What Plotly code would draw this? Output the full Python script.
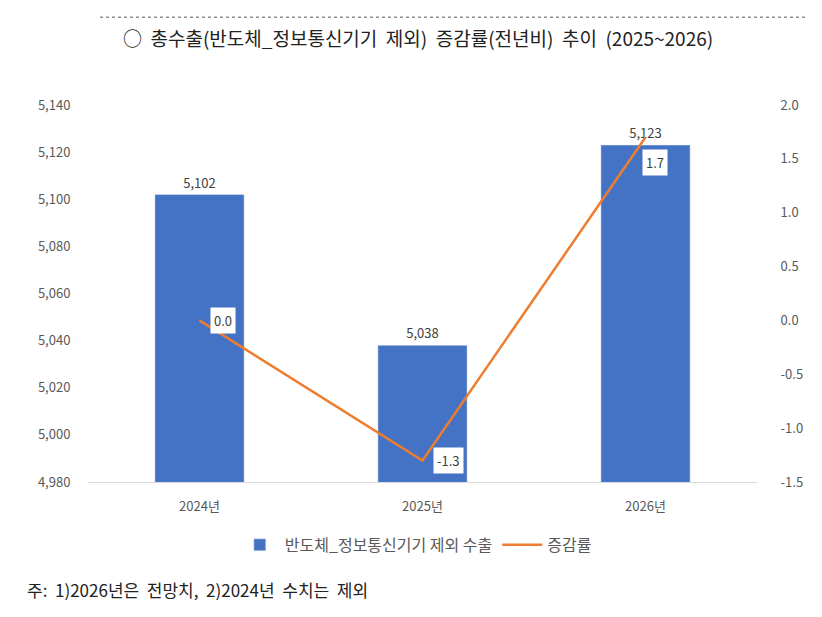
import plotly.graph_objects as go

years = ["2024년", "2025년", "2026년"]
exports = [5102, 5038, 5123]
growth = [0.0, -1.3, 1.7]
growth_labels = ["0.0", "-1.3", "1.7"]

right_ticks = [-1.5, -1.0, -0.5, 0.0, 0.5, 1.0, 1.5, 2.0]
right_tick_text = ["-1.5", "-1.0", "-0.5", "0.0", "0.5", "1.0", "1.5", "2.0"]

title_text = "○  총수출(반도체_정보통신기기  제외)  증감률(전년비)  추이  (2025~2026)"
note_text = "주:  1)2026년은  전망치,  2)2024년  수치는  제외"

FONT = "Noto Sans CJK KR"
GREY = "#595959"

fig = go.Figure()

fig.add_trace(go.Bar(
    x=years, y=exports,
    name="반도체_정보통신기기 제외 수출",
    marker=dict(color="#4472C4"),
    width=0.4,
    text=["{:,}".format(v) for v in exports],
    textposition="outside",
    textfont=dict(size=13, color="#404040", family=FONT),
    cliponaxis=False,
))

fig.add_trace(go.Scatter(
    x=years, y=growth,
    name="증감률",
    mode="lines",
    line=dict(color="#ED7D31", width=2.5),
    yaxis="y2",
))

# label boxes for the growth line
shifts = [(23, 0), (26, 0), (9, -25)]
for i in range(len(years)):
    fig.add_annotation(
        x=years[i], y=growth[i], xref="x", yref="y2",
        text=growth_labels[i], showarrow=False,
        xshift=shifts[i][0], yshift=shifts[i][1],
        bgcolor="white", borderpad=3,
        font=dict(size=13, color="#404040", family=FONT),
    )

fig.add_annotation(
    x=0.493, y=1.178, xref="paper", yref="paper",
    xanchor="center", yanchor="middle",
    text=title_text, showarrow=False,
    font=dict(size=19, color="#222222", family=FONT),
)
fig.add_annotation(
    x=-0.094, y=-0.286, xref="paper", yref="paper",
    xanchor="left", yanchor="middle", text=note_text, showarrow=False,
    font=dict(size=17, color="#222222", family=FONT),
)
fig.add_shape(
    type="line", xref="paper", yref="paper",
    x0=0.018, x1=1.076, y0=1.233, y1=1.233,
    line=dict(color="#555555", width=1, dash="dot"),
)

fig.update_layout(
    width=806, height=601,
    margin=dict(l=80, r=57, t=97, b=127),
    paper_bgcolor="white", plot_bgcolor="white",
    font=dict(family=FONT, color=GREY, size=12),
    showlegend=True,
    legend=dict(
        orientation="h", x=0.49, xanchor="center", y=-0.167, yanchor="middle",
        font=dict(size=16, color=GREY, family=FONT),
        itemwidth=40, entrywidthmode="pixels",
    ),
    bargap=0.6,
    xaxis=dict(
        showline=True, linecolor="#D9D9D9", linewidth=1,
        ticks="outside", ticklen=12, tickcolor="white",
        tickfont=dict(size=13, color=GREY),
        showgrid=False,
    ),
    yaxis=dict(
        range=[4980, 5140], dtick=20, tickformat=",",
        showgrid=False, zeroline=False, showline=False,
        ticks="outside", ticklen=14, tickcolor="white",
        tickfont=dict(size=13, color=GREY),
    ),
    yaxis2=dict(
        range=[-1.5, 2.0], tickvals=right_ticks, ticktext=right_tick_text,
        overlaying="y", side="right",
        showgrid=False, zeroline=False, showline=False,
        ticks="outside", ticklen=20, tickcolor="white",
        tickfont=dict(size=13, color=GREY),
    ),
)

fig.write_html("out.html")
